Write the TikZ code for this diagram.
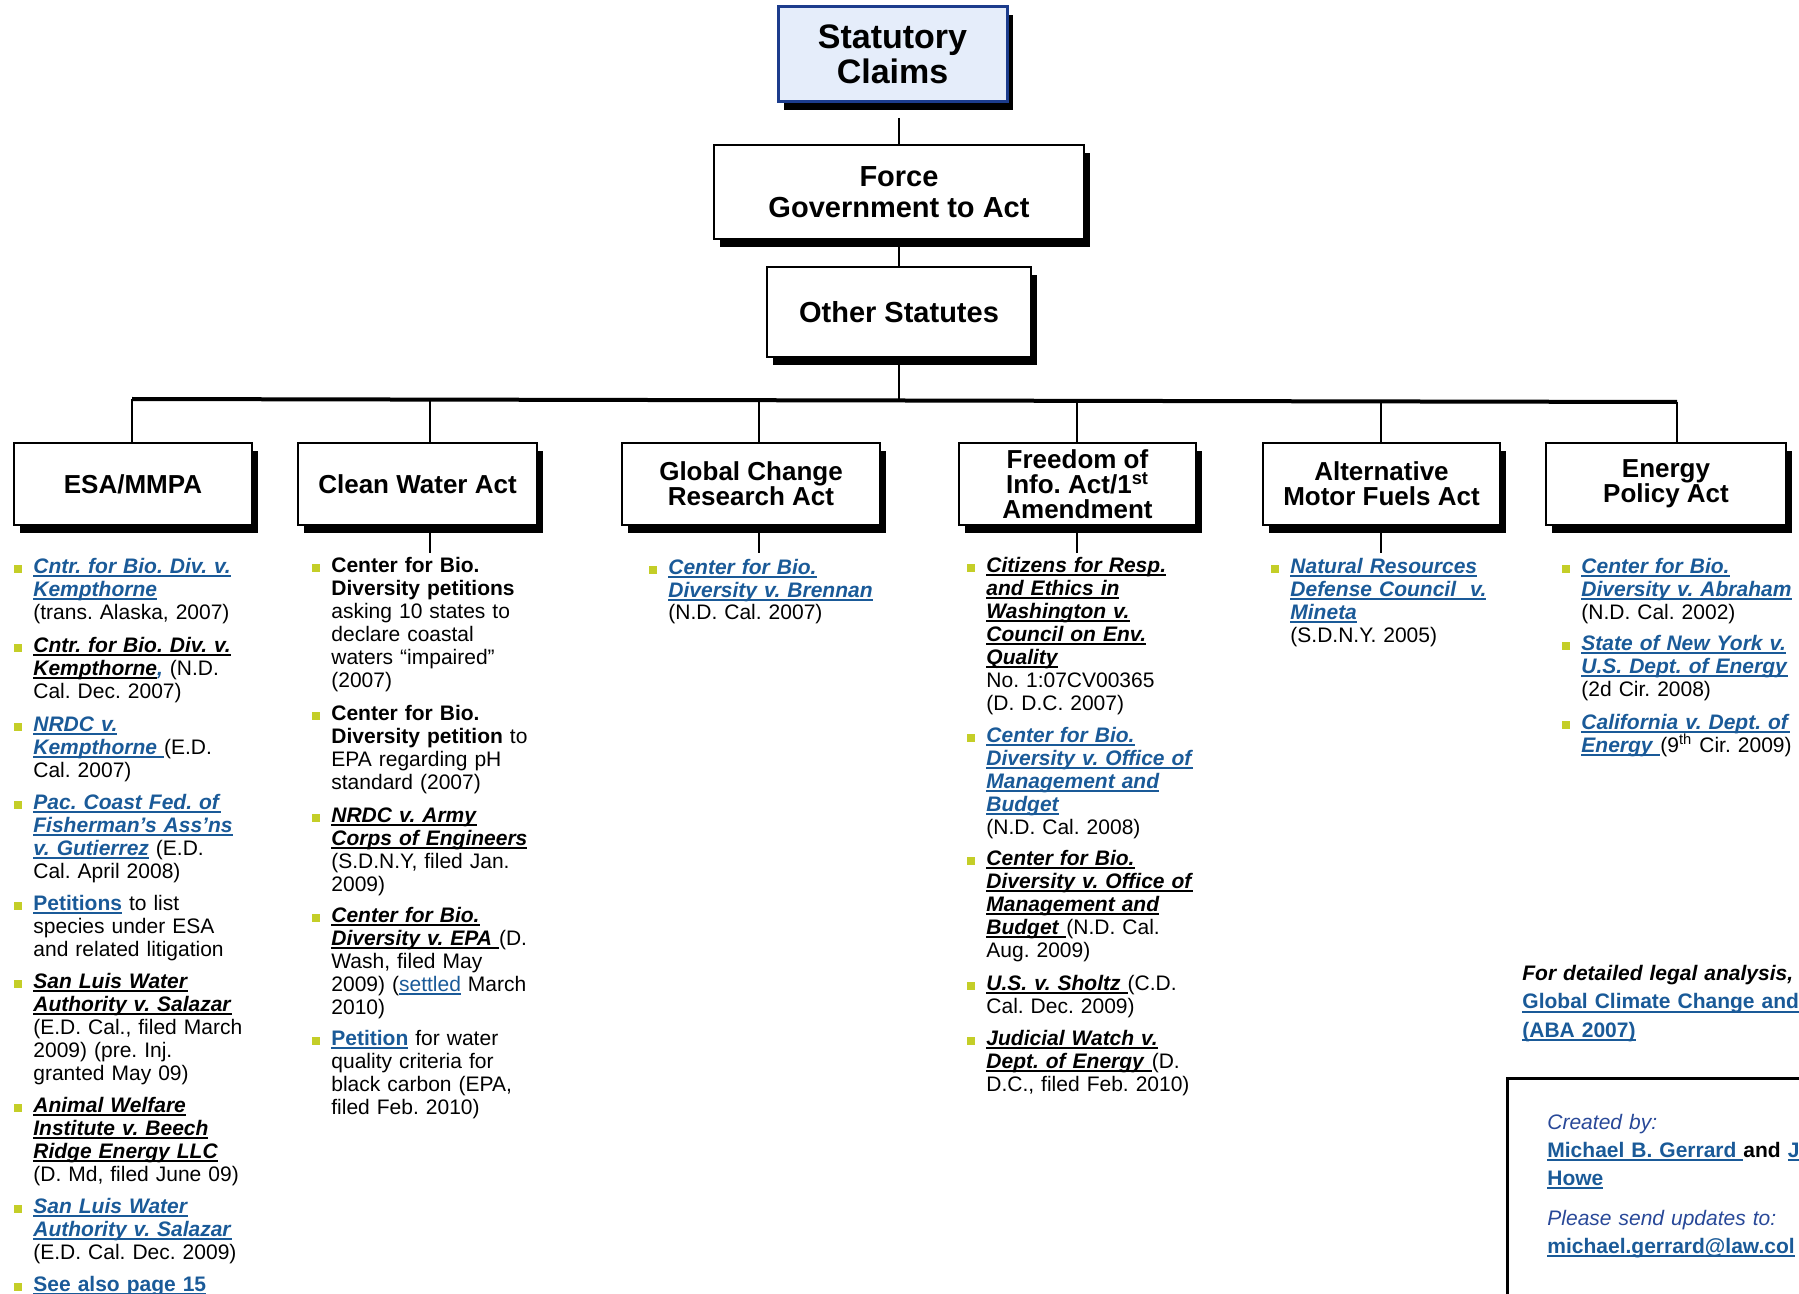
\documentclass[tikz,border=0pt]{standalone}
\usepackage{fontspec}
\setmainfont{Liberation Sans}
\usetikzlibrary{shadows}
\frenchspacing
\definecolor{linkblue}{RGB}{26,90,152}
\definecolor{bulletc}{RGB}{196,206,40}
\definecolor{titlefill}{RGB}{229,237,250}
\definecolor{titledraw}{RGB}{28,60,140}
\definecolor{credblue}{RGB}{40,72,152}
\newsavebox{\ulsave}
\newcommand{\ulbox}[1]{\leavevmode\sbox{\ulsave}{#1}\rlap{\rule[-2.2pt]{\wd\ulsave}{1pt}}\usebox{\ulsave}}
\newcommand{\lk}[1]{\textcolor{linkblue}{\ulbox{\textbf{\textit{#1}}}}}
\newcommand{\bk}[1]{\ulbox{\textbf{\textit{#1}}}}
\newcommand{\lb}[1]{\textcolor{linkblue}{\ulbox{\textbf{#1}}}}
\newcommand{\lr}[1]{\textcolor{linkblue}{\ulbox{#1}}}
\tikzset{
  hbox/.style={draw=black, line width=1.25pt, fill=white, align=center, inner sep=0pt,
    font=\bfseries\fontsize{13}{12.4}\selectfont,
    drop shadow={shadow xshift=3.2pt, shadow yshift=-3.8pt, fill=black, opacity=1}},
  bigbox/.style={hbox, font=\bfseries\fontsize{14.5}{15.8}\selectfont},
  caseitem/.style={anchor=base west, inner sep=0pt, align=left, text width=120pt,
    font=\frenchspacing\fontsize{10.5}{11.5}\selectfont},
  conn/.style={line width=1.3pt},
  mainbar/.style={line width=2pt},
}
\newcommand{\caseat}[4]{%
  \fill[bulletc] ({#2-19},{#3-8.5}) rectangle ++(8,8);
  \node[caseitem] (#1) at (#2,#3) {#4};}
\begin{document}
\begin{tikzpicture}[x=0.5pt,y=-0.5pt]
\useasboundingbox (0,0) rectangle (1799,1294);
\clip (0,0) rectangle (1799,1294);

% top chain
\node[draw=titledraw, fill=titlefill, line width=1.5pt, minimum width=114.5pt, minimum height=47.5pt,
  align=center, inner sep=0pt, font=\bfseries\fontsize{17}{17.5}\selectfont,
  drop shadow={shadow xshift=3pt, shadow yshift=-4pt, fill=black, opacity=1}] (title) at (892.5,54.5) {Statutory\\Claims};
\node[bigbox, minimum width=185pt, minimum height=47pt] (force) at (899,192) {Force\\Government to Act};
\node[bigbox, minimum width=132pt, minimum height=45pt] (other) at (899,312) {Other Statutes};

% act boxes
\node[hbox, minimum width=119pt, minimum height=41pt] (esa) at (133,484) {ESA/MMPA};
\node[hbox, minimum width=119.5pt, minimum height=41pt] (cwa) at (417.5,484) {Clean Water Act};
\node[hbox, minimum width=129pt, minimum height=41pt] (gcra) at (751,484) {Global Change\\Research Act};
\node[hbox, minimum width=118.5pt, minimum height=41pt, font=\bfseries\fontsize{13}{12.6}\selectfont] (foia) at (1077.5,484) {Freedom of\\Info. Act/1\textsuperscript{st}\\Amendment};
\node[hbox, minimum width=118.5pt, minimum height=41pt] (amfa) at (1381.5,484) {Alternative\\Motor Fuels Act};
\node[hbox, minimum width=120pt, minimum height=41pt] (epa) at (1666,484) {Energy\\Policy Act};

% connectors
\coordinate (t0) at (899,118);
\draw[conn] (t0) -- (t0 |- force.north);
\draw[conn] (force.south -| t0) -- (other.north -| t0);
\coordinate (bm) at (899,401);
\draw[conn] (other.south -| t0) -- (bm);
\coordinate (bl) at (132,399);
\coordinate (br) at (1677,402);
\draw[mainbar] (bl) -- (br);
\coordinate (d2) at (430,400);
\coordinate (d3) at (759,400);
\coordinate (d4) at (1077,401);
\coordinate (d5) at (1381,401);
\draw[conn] (bl) -- (bl |- esa.north);
\draw[conn] (d2) -- (d2 |- cwa.north);
\draw[conn] (d3) -- (d3 |- gcra.north);
\draw[conn] (d4) -- (d4 |- foia.north);
\draw[conn] (d5) -- (d5 |- amfa.north);
\draw[conn] (br) -- (br |- epa.north);
\coordinate (s2) at (430,553);
\coordinate (s3) at (759,553);
\coordinate (s4) at (1077,553);
\coordinate (s5) at (1381,553);
\draw[conn] (s2 |- cwa.south) -- (s2);
\draw[conn] (s3 |- gcra.south) -- (s3);
\draw[conn] (s4 |- foia.south) -- (s4);
\draw[conn] (s5 |- amfa.south) -- (s5);

% ESA/MMPA column
\caseat{e1}{33}{573}{\lk{Cntr. for Bio. Div. v.}\\\lk{Kempthorne}\\(trans. Alaska, 2007)}
\caseat{e2}{33}{652}{\bk{Cntr. for Bio. Div. v.}\\\bk{Kempthorne}\textcolor{linkblue}{\textbf{\textit{,}}} (N.D.\\Cal. Dec. 2007)}
\caseat{e3}{33}{731}{\lk{NRDC v.}\\\lk{Kempthorne\ }(E.D.\\Cal. 2007)}
\caseat{e4}{33}{809}{\lk{Pac. Coast Fed. of}\\\lk{Fisherman’s Ass’ns}\\\lk{v. Gutierrez} (E.D.\\Cal. April 2008)}
\caseat{e5}{33}{910}{\lb{Petitions} to list\\species under ESA\\and related litigation}
\caseat{e6}{33}{988}{\bk{San Luis Water}\\\bk{Authority v. Salazar}\\(E.D. Cal., filed March\\2009) (pre. Inj.\\granted May 09)}
\caseat{e7}{33}{1112}{\bk{Animal Welfare}\\\bk{Institute v. Beech}\\\bk{Ridge Energy LLC}\\(D. Md, filed June 09)}
\caseat{e8}{33}{1213}{\lk{San Luis Water}\\\lk{Authority v. Salazar}\\(E.D. Cal. Dec. 2009)}
\caseat{e9}{33}{1291}{\lb{See also page 15}}

% Clean Water Act column
\caseat{c1}{331}{572}{\textbf{Center for Bio.}\\\textbf{Diversity petitions}\\asking 10 states to\\declare coastal\\waters “impaired”\\(2007)}
\caseat{c2}{331}{720}{\textbf{Center for Bio.}\\\textbf{Diversity petition} to\\EPA regarding pH\\standard (2007)}
\caseat{c3}{331}{822}{\bk{NRDC v. Army}\\\bk{Corps of Engineers}\\(S.D.N.Y, filed Jan.\\2009)}
\caseat{c4}{331}{922}{\bk{Center for Bio.}\\\bk{Diversity v. EPA\ }(D.\\Wash, filed May\\2009) (\lr{settled} March\\2010)}
\caseat{c5}{331}{1045}{\lb{Petition} for water\\quality criteria for\\black carbon (EPA,\\filed Feb. 2010)}

% Global Change Research Act column
\caseat{g1}{668}{574}{\lk{Center for Bio.}\\\lk{Diversity v. Brennan}\\(N.D. Cal. 2007)}

% FOIA column
\caseat{f1}{986}{572}{\bk{Citizens for Resp.}\\\bk{and Ethics in}\\\bk{Washington v.}\\\bk{Council on Env.}\\\bk{Quality}\\No. 1:07CV00365\\(D. D.C. 2007)}
\caseat{f2}{986}{742}{\lk{Center for Bio.}\\\lk{Diversity v. Office of}\\\lk{Management and}\\\lk{Budget}\\(N.D. Cal. 2008)}
\caseat{f3}{986}{865}{\bk{Center for Bio.}\\\bk{Diversity v. Office of}\\\bk{Management and}\\\bk{Budget\ }(N.D. Cal.\\Aug. 2009)}
\caseat{f4}{986}{990}{\bk{U.S. v. Sholtz\ }(C.D.\\Cal. Dec. 2009)}
\caseat{f5}{986}{1045}{\bk{Judicial Watch v.}\\\bk{Dept. of Energy\ }(D.\\D.C., filed Feb. 2010)}

% Alternative Motor Fuels Act column
\caseat{a1}{1290}{573}{\lk{Natural Resources}\\\lk{Defense Council~ v.}\\\lk{Mineta}\\(S.D.N.Y. 2005)}

% Energy Policy Act column
\caseat{p1}{1581}{573}{\lk{Center for Bio.}\\\lk{Diversity v. Abraham}\\(N.D. Cal. 2002)}
\caseat{p2}{1581}{650}{\lk{State of New York v.}\\\lk{U.S. Dept. of Energy}\\(2d Cir. 2008)}
\caseat{p3}{1581}{729}{\lk{California v. Dept. of}\\\lk{Energy\ }(9\textsuperscript{th} Cir. 2009)}

% bottom right
\node[anchor=base west, inner sep=0pt, align=left, text width=220pt,
  font=\frenchspacing\fontsize{10.5}{14.25}\selectfont] (legal) at (1522,980)
  {\textbf{\textit{For detailed legal analysis,}}\\\lb{Global Climate Change and}\\\lb{(ABA 2007)}};
\node[draw, line width=1.5pt, anchor=north west, minimum width=200pt, minimum height=150pt, inner sep=0pt] (credbox) at (1506,1077) {};
\node[anchor=base west, inner sep=0pt, align=left, text width=220pt,
  font=\frenchspacing\fontsize{10.5}{14}\selectfont] (cred) at (1547,1129)
  {\textcolor{credblue}{\textit{Created by:}}\\\lb{Michael B. Gerrard\ }\textbf{and} \lb{J}\\\lb{Howe}\\[6pt]\textcolor{credblue}{\textit{Please send updates to:}}\\\lb{michael.gerrard@law.col}};
\end{tikzpicture}
\end{document}
